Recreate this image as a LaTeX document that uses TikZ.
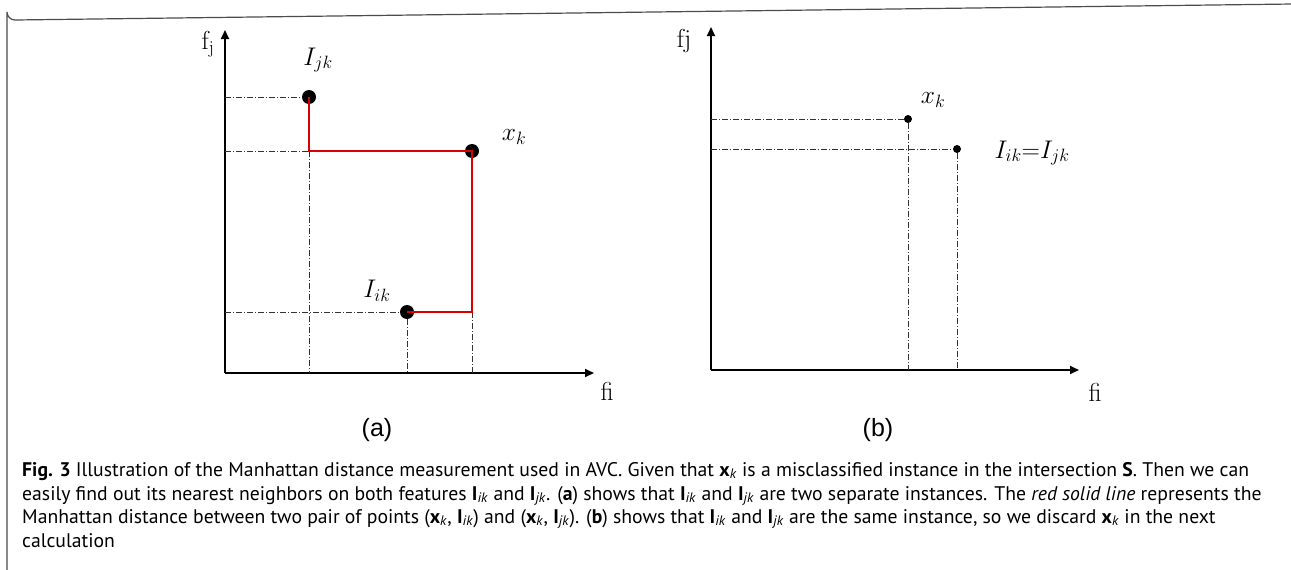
\documentclass[tikz,border=0pt]{standalone}
\usepackage{fix-cm}
\usepackage{fontspec}
\setmainfont{Latin Modern Roman}
\newfontfamily\capfont{PT Sans}
\newfontfamily\labfont{Liberation Sans}
\usetikzlibrary{arrows.meta}
\newcommand{\bx}{\textbf{x}\textsubscript{\textit{k}}}
\newcommand{\bIik}{\textbf{I}\textsubscript{\textit{ik}}}
\newcommand{\bIjk}{\textbf{I}\textsubscript{\textit{jk}}}
\tikzset{
  axis/.style={line width=1.8pt,-{Triangle[length=9pt,width=8pt]}},
  guide/.style={line width=0.6pt,black!80,dash pattern=on 6pt off 2pt on 1pt off 2pt},
  bigdot/.style={circle,fill=black,inner sep=0pt,minimum size=14pt},
  smalldot/.style={circle,fill=black,inner sep=0pt,minimum size=8pt},
  manh/.style={line width=1.5pt,red!85!black},
  mlab/.style={font=\fontsize{25.5}{30}\selectfont,inner sep=0pt},
  axlab/.style={font=\fontsize{26}{30}\selectfont,inner sep=0pt},
  sublab/.style={font=\labfont\fontsize{25}{29}\selectfont,inner sep=0pt},
  capline/.style={anchor=base west,inner sep=0pt,font=\capfont\fontsize{19.7}{24}\selectfont},
}
\begin{document}
\begin{tikzpicture}[x=1pt,y=-1pt]
\useasboundingbox (0,0) rectangle (1291,570);
% frame
\draw[line width=1.2pt,black!70] (7,572) -- (7,12) arc[start angle=180,end angle=90,radius=8] -- (1293,4);

% ---------- panel (a)
\coordinate (Oa) at (225,373);
\coordinate (Ya) at (225,30);
\coordinate (Xa) at (594,373);
\draw[axis] (Oa) -- (Ya);
\draw[axis] (Oa) -- (Xa);
\node[bigdot] (Ijk) at (309,97) {};
\node[bigdot] (xka) at (472,151) {};
\node[bigdot] (Iika) at (407,312) {};
\draw[guide] (Oa |- Ijk) -- (Ijk);
\draw[guide] (Oa |- xka) -- (xka);
\draw[guide] (Oa |- Iika) -- (Iika);
\draw[guide] (Ijk |- xka) -- (Ijk |- Oa);
\draw[guide] (Iika) -- (Iika |- Oa);
\draw[guide] (xka) -- (xka |- Oa);
\draw[manh] (Ijk.center) |- (xka.center) |- (Iika.center);
\node[mlab] (lIjk) at (318,60) {$I_{jk}$};
\node[mlab] (lxka) at (514,137) {$x_k$};
\node[mlab] (lIika) at (377,291) {$I_{ik}$};
\node[axlab] (fja) at (208,44) {f$_{\mathrm{j}}$};
\node[axlab] (fia) at (607,391) {fi};
\node[sublab] (suba) at (377,430) {(a)};

% ---------- panel (b)
\coordinate (Ob) at (711,370);
\coordinate (Yb) at (711,27);
\coordinate (Xb) at (1079,370);
\draw[axis] (Ob) -- (Yb);
\draw[axis] (Ob) -- (Xb);
\node[smalldot] (xkb) at (908,119) {};
\node[smalldot] (Iikb) at (957,149) {};
\draw[guide] (Ob |- xkb) -- (xkb);
\draw[guide] (Ob |- Iikb) -- (Iikb);
\draw[guide] (xkb) -- (xkb |- Ob);
\draw[guide] (Iikb) -- (Iikb |- Ob);
\node[mlab] (lxkb) at (933,100) {$x_k$};
\node[mlab] (lIb) at (1032,153) {$I_{ik}{=}I_{jk}$};
\node[axlab] (fjb) at (684,41) {fj};
\node[axlab] (fib) at (1095,392) {fi};
\node[sublab] (subb) at (878,430) {(b)};

% ---------- caption
\node[capline] (c1) at (22,476) {\textbf{Fig. 3} Illustration of the Manhattan distance measurement used in AVC. Given that \bx{} is a misclassified instance in the intersection \textbf{S}. Then we can};
\node[capline] (c2) at (22,500) {easily find out its nearest neighbors on both features \bIik{} and \bIjk. (\textbf{a}) shows that \bIik{} and \bIjk{} are two separate instances. The \textit{red solid line} represents the};
\node[capline] (c3) at (22,523) {Manhattan distance between two pair of points (\bx, \bIik) and (\bx, \bIjk). (\textbf{b}) shows that \bIik{} and \bIjk{} are the same instance, so we discard \bx{} in the next};
\node[capline] (c4) at (22,547) {calculation};
\end{tikzpicture}
\end{document}
